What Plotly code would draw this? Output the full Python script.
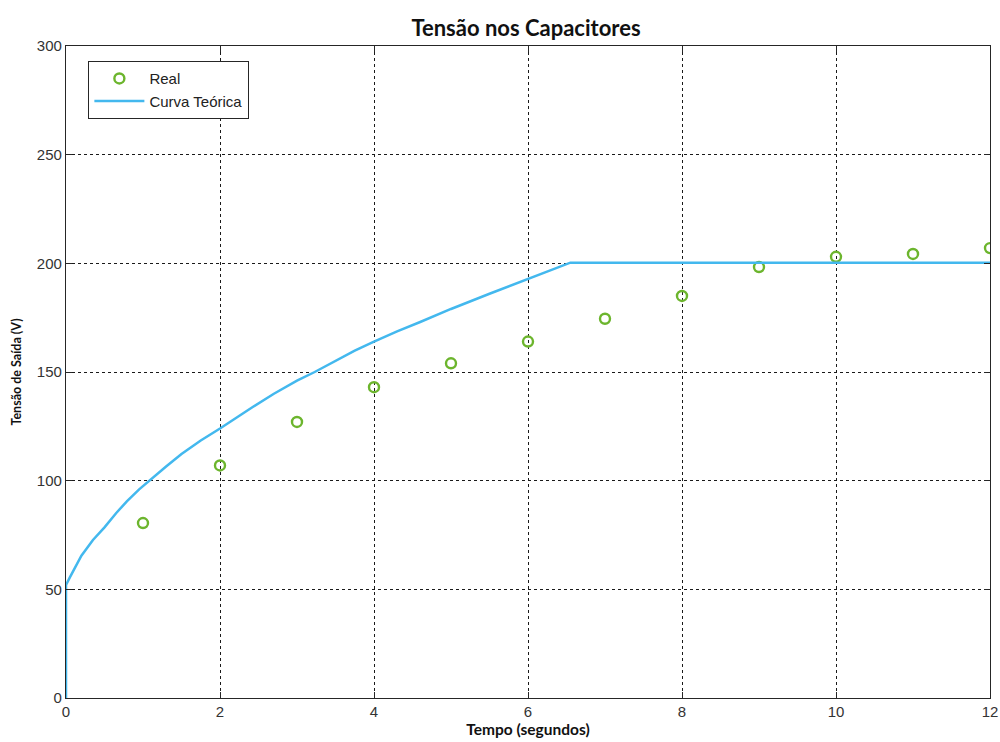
import plotly.graph_objects as go

# Measured capacitor voltage (one reading per second)
tempo_real = [1, 2, 3, 4, 5, 6, 7, 8, 9, 10, 11, 12]
tensao_real = [80.5, 107, 127, 143, 154, 164, 174.5, 185, 198.3, 203, 204.3, 207]

# Theoretical charging curve
tempo_teorico = [0, 0, 0.05, 0.1, 0.2, 0.35, 0.5, 0.65, 0.79, 0.95, 1.09, 1.3, 1.5,
                 1.75, 2.0, 2.2, 2.43, 2.7, 3.0, 3.23, 3.5, 3.75, 4.0, 4.3, 4.6,
                 5.0, 5.5, 5.98, 6.3, 6.55, 12]
tensao_teorica = [0, 52, 55.5, 59, 65.5, 72.7, 78.5, 85, 90.5, 96, 100.3, 106.5, 112.3,
                  118.5, 124, 128.8, 134, 140, 146, 150, 155, 159.8, 164, 168.7, 173,
                  179, 186, 192.6, 196.8, 200.3, 200.3]

x_ticks = [0, 2, 4, 6, 8, 10, 12]
y_ticks = [0, 50, 100, 150, 200, 250, 300]

fig = go.Figure()
fig.add_trace(go.Scatter(
    x=tempo_real, y=tensao_real, mode="markers", name="Real",
    marker=dict(symbol="circle-open", size=10, color="#6cb52d",
                line=dict(width=2.4, color="#6cb52d")),
))
fig.add_trace(go.Scatter(
    x=tempo_teorico, y=tensao_teorica, mode="lines", name="Curva Teórica",
    line=dict(color="#43b8ee", width=2.5),
))

axis_common = dict(
    showline=True, linecolor="#262626", linewidth=1.3, mirror="ticks",
    ticks="inside", ticklen=6, tickcolor="#262626", tickwidth=1.2,
    showgrid=True, gridcolor="#1a1a1a", gridwidth=1.2, griddash="3px,3px",
    zeroline=False, automargin=False,
    tickfont=dict(family="Liberation Sans, Arial", size=15, color="#333333"),
)

fig.update_xaxes(range=[0, 12], tickvals=x_ticks, **axis_common,
                 title=dict(text="<b>Tempo (segundos)</b>", standoff=4,
                            font=dict(family="Lato, Open Sans", size=15.5, color="#111111")))
fig.update_yaxes(range=[0, 300], tickvals=y_ticks, **axis_common,
                 title=dict(text="<b>Tensão de Saída (V)</b>", standoff=12,
                            font=dict(family="Lato, Open Sans", size=12.5, color="#111111")))

fig.update_layout(
    width=1000, height=742,
    margin=dict(l=66, r=10, t=46, b=44),
    paper_bgcolor="white", plot_bgcolor="white",
    title=dict(text="<b>Tensão nos Capacitores</b>", x=0.526, xanchor="center",
               y=0.962, yanchor="middle",
               font=dict(family="Lato, Open Sans", size=22, color="#111111")),
    legend=dict(x=0.024, y=0.977, xanchor="left", yanchor="top",
                bgcolor="white", bordercolor="#262626", borderwidth=1.2,
                font=dict(family="Liberation Sans, Arial", size=15, color="#222222"),
                tracegroupgap=0, itemwidth=50),
    showlegend=True,
)

fig.write_html("out.html")
